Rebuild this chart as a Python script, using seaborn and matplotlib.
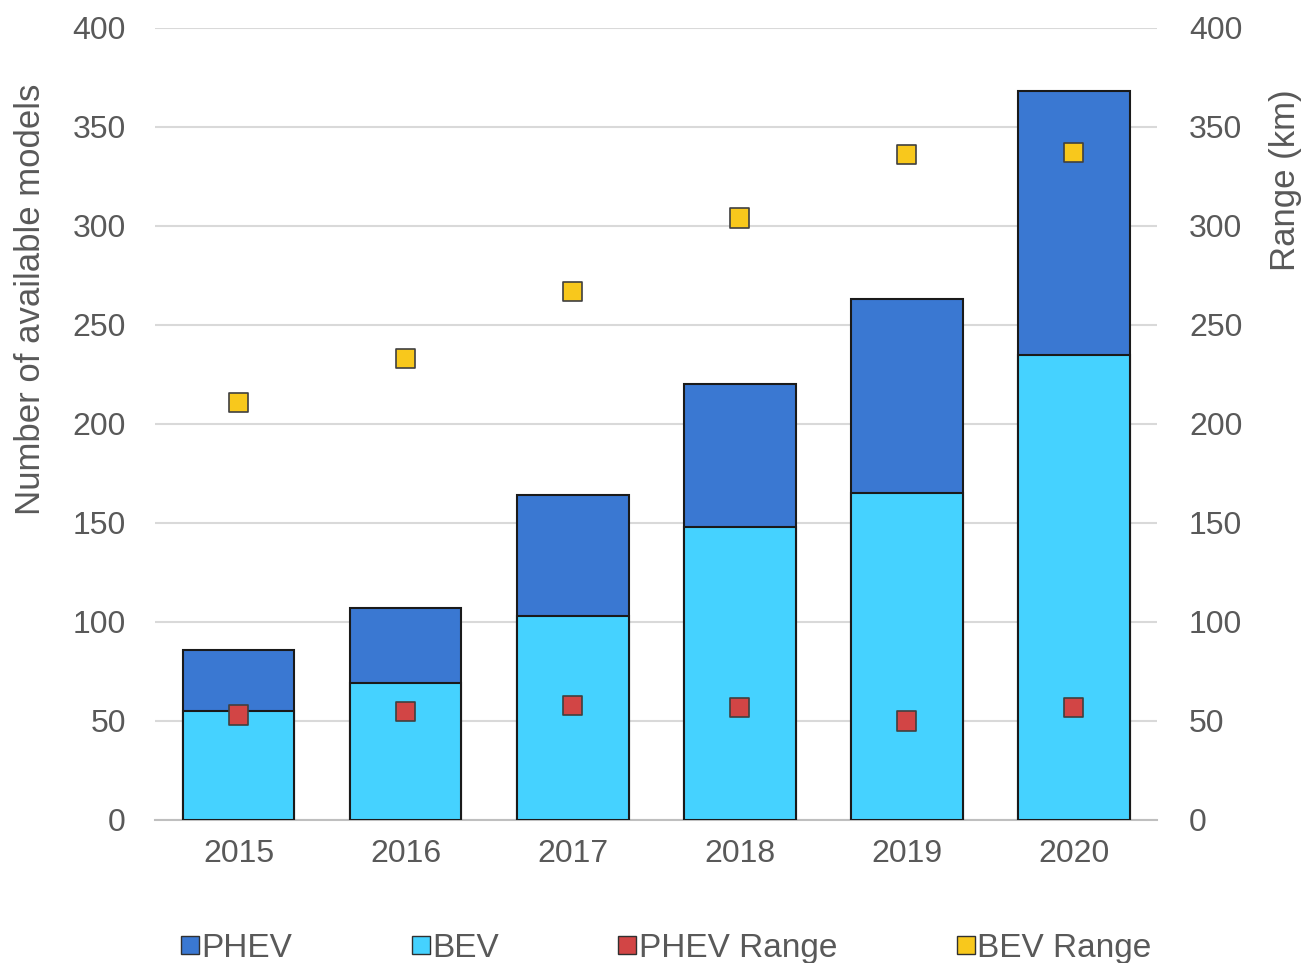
import numpy as np
import pandas as pd
import matplotlib
matplotlib.use("Agg")
import matplotlib.pyplot as plt
from matplotlib.lines import Line2D
import seaborn as sns

# chart values
years = ["2015", "2016", "2017", "2018", "2019", "2020"]
bev_models = [55, 69, 103, 148, 165, 235]
phev_models = [31, 38, 61, 72, 98, 133]
phev_range = [53, 55, 58, 57, 50, 57]
bev_range = [211, 233, 267, 304, 336, 337]

df = pd.DataFrame({
    "Year": years,
    "BEV": bev_models,
    "PHEV": phev_models,
    "PHEV Range": phev_range,
    "BEV Range": bev_range,
})
df["Total"] = df["BEV"] + df["PHEV"]

c_phev = "#3A78D2"
c_bev = "#45D2FF"
c_phev_r = "#D24545"
c_bev_r = "#F8C81C"
txt = "#595959"

sns.set_style("white")
plt.rcParams["font.family"] = ["Liberation Sans", "DejaVu Sans"]

fig = plt.figure(figsize=(13.06, 9.63), dpi=100)
ax = fig.add_axes([0.1187, 0.1485, 0.7673, 0.8225])

sns.barplot(data=df, x="Year", y="Total", color=c_phev, width=0.67,
            edgecolor="#1a1a1a", linewidth=1.5, saturation=1, ax=ax, zorder=3)
sns.barplot(data=df, x="Year", y="BEV", color=c_bev, width=0.67,
            edgecolor="#1a1a1a", linewidth=1.5, saturation=1, ax=ax, zorder=3)

ax.set_ylim(0, 400)
ax.set_xlim(-0.5, len(years) - 0.5)
ax.set_yticks(np.arange(0, 401, 50))
ax.yaxis.grid(True, color="#d9d9d9", linewidth=1.5, zorder=0)
ax.set_axisbelow(True)
for s in ["top", "left", "right"]:
    ax.spines[s].set_visible(False)
ax.spines["bottom"].set_color("#bfbfbf")
ax.spines["bottom"].set_linewidth(1.5)
ax.set_xticks(np.arange(-0.5, len(years)), minor=True)
ax.tick_params(axis="x", which="minor", length=8, width=1.5, color="#bfbfbf")
ax.tick_params(axis="x", which="major", length=0, labelsize=23, labelcolor=txt, pad=14)
ax.tick_params(axis="y", length=0, labelsize=23, labelcolor=txt, pad=21)
ax.set_xlabel("")
ax.set_ylabel("Number of available models", fontsize=25, color=txt)
ax.yaxis.set_label_coords(-0.108, 0.657)

ax2 = ax.twinx()
rdf = df.melt(id_vars="Year", value_vars=["PHEV Range", "BEV Range"],
              var_name="Series", value_name="Range")
sns.scatterplot(data=rdf, x="Year", y="Range", hue="Series",
                palette={"PHEV Range": c_phev_r, "BEV Range": c_bev_r},
                marker="s", s=190, edgecolor="#404040", linewidth=1.2,
                legend=False, ax=ax2, zorder=5)
ax2.set_ylim(0, 400)
ax2.set_xlim(-0.5, len(years) - 0.5)
ax2.set_yticks(np.arange(0, 401, 50))
for s in ["top", "left", "right", "bottom"]:
    ax2.spines[s].set_visible(False)
ax2.tick_params(axis="y", length=0, labelsize=23, labelcolor=txt, pad=23)
ax2.set_ylabel("Range (km)", fontsize=25, color=txt)
ax2.yaxis.set_label_coords(1.112, 0.808)

handles = [
    Line2D([], [], marker="s", linestyle="none", markersize=13,
           markerfacecolor=c, markeredgecolor="#303030")
    for c in [c_phev, c_bev, c_phev_r, c_bev_r]
]
fig.legend(handles, ["PHEV", "BEV", "PHEV Range", "BEV Range"],
           loc="lower left", bbox_to_anchor=(0.116, -0.032), ncol=4,
           frameon=False, fontsize=24, labelcolor=txt, handlelength=0.5,
           handletextpad=0.1, columnspacing=3.6)

fig.savefig("out.png", dpi=100)
